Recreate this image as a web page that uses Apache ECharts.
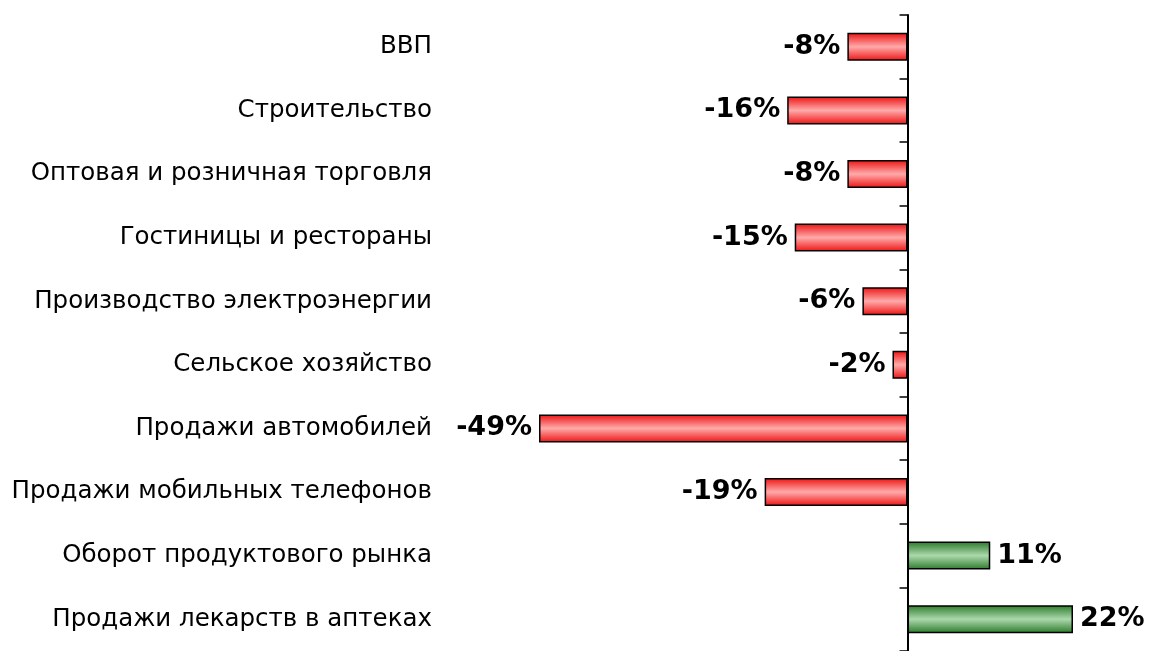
<!DOCTYPE html>
<html><head><meta charset="utf-8">
<script src="https://cdn.jsdelivr.net/npm/echarts@6/dist/echarts.min.js"></script>
<style>html,body{margin:0;padding:0;background:#fff}#c{width:1152px;height:651px}</style>
</head><body><div id="c"></div>
<script>
const categories = ['ВВП','Строительство','Оптовая и розничная торговля','Гостиницы и рестораны','Производство электроэнергии','Сельское хозяйство','Продажи автомобилей','Продажи мобильных телефонов','Оборот продуктового рынка','Продажи лекарств в аптеках'];
const values = [-8,-16,-8,-15,-6,-2,-49,-19,11,22];

const redGrad = new echarts.graphic.LinearGradient(0,0,0,1,[
  {offset:0,color:'#ee1111'},{offset:0.5,color:'#ffaaaa'},{offset:1,color:'#ee1111'}]);
const greenGrad = new echarts.graphic.LinearGradient(0,0,0,1,[
  {offset:0,color:'#2a7a2a'},{offset:0.5,color:'#acd8ac'},{offset:1,color:'#2a7a2a'}]);

const data = values.map(v => ({
  value: v,
  itemStyle: {color: v < 0 ? redGrad : greenGrad},
  label: {position: v < 0 ? 'left' : 'right'}
}));

const chart = echarts.init(document.getElementById('c'));
chart.setOption({
  animation:false,
  grid:{left:539,right:79,top:15,bottom:0,containLabel:false,outerBoundsMode:'none'},
  xAxis:{type:'value',min:-49,max:22,show:false},
  yAxis:{type:'category',data:categories,inverse:true,
    axisLine:{onZero:true,lineStyle:{color:'#000',width:2}},
    axisTick:{show:true,length:8,lineStyle:{color:'#000',width:1.5}},
    axisLabel:{margin:107,color:'#000',fontFamily:'DejaVu Sans',fontSize:24.5},
    splitLine:{show:false}},
  series:[{type:'bar',data:data,barWidth:28,
    itemStyle:{borderColor:'#000',borderWidth:1.5},
    label:{show:true,formatter:p=>p.value+'%',fontFamily:'DejaVu Sans',fontWeight:'bold',fontSize:27,color:'#000',distance:7}}]
});
</script></body></html>
